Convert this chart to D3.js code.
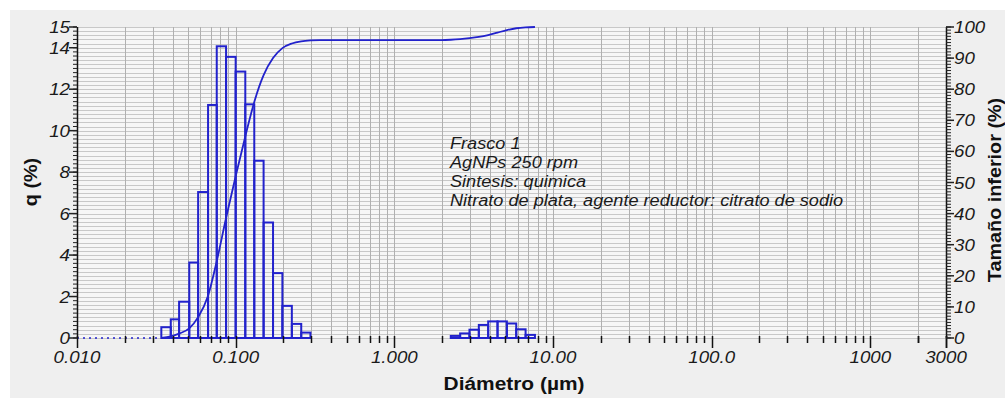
<!DOCTYPE html>
<html>
<head>
<meta charset="utf-8">
<script src="https://cdn.jsdelivr.net/npm/d3@7/dist/d3.min.js"></script>
<style>
  html, body { margin: 0; padding: 0; background: #fff; }
  svg { display: block; font-family: "Liberation Sans", Arial, sans-serif; }
</style>
</head>
<body>
<div id="container"></div>
<script>
// bin edges (µm) of the analyser channels that carry the data
var edges = [0.034, 0.039, 0.044, 0.051, 0.058, 0.067, 0.076, 0.087, 0.100, 0.115,
             0.131, 0.150, 0.172, 0.197, 0.226, 0.259, 0.296, 0.339, 0.389, 0.445,
             0.510, 0.584, 0.669, 0.766, 0.877, 1.005, 1.151, 1.318, 1.510, 1.729,
             1.981, 2.269, 2.599, 2.976, 3.409, 3.905, 4.472, 5.122, 5.867, 6.720, 7.697];
// q (%) per bin (40 bins)
var q = [0.52, 0.9, 1.75, 3.64, 7.04, 11.24, 14.07, 13.56, 12.85, 11.27,
         8.55, 5.57, 3.13, 1.55, 0.68, 0.26,
         0, 0, 0, 0, 0, 0, 0, 0, 0, 0, 0, 0, 0, 0, 0,
         0.1, 0.22, 0.4, 0.63, 0.8, 0.8, 0.7, 0.42, 0.15];
// cumulative undersize (%) at each edge
var cumul = [0, 0.5, 1.4, 3.1, 6.7, 13.6, 24.7, 38.6, 52.0, 64.8,
             75.9, 84.5, 90.0, 93.2, 94.7, 95.4, 95.7, 95.8, 95.8, 95.8,
             95.8, 95.8, 95.8, 95.8, 95.8, 95.8, 95.8, 95.8, 95.8, 95.8,
             95.8, 95.9, 96.1, 96.4, 96.8, 97.4, 98.2, 99.0, 99.6, 99.9, 100];

var xTicks = [0.01, 0.1, 1, 10, 100, 1000, 3000];
var xTickLabels = ["0.010", "0.100", "1.000", "10.00", "100.0", "1000", "3000"];
var qTicks = [0, 2, 4, 6, 8, 10, 12, 14, 15];
var cumTicks = [0, 10, 20, 30, 40, 50, 60, 70, 80, 90, 100];
var notes = ["Frasco 1", "AgNPs 250 rpm", "Sintesis: quimica",
             "Nitrato de plata, agente reductor: citrato de sodio"];

var W = 1005, H = 398;
var pL = 77, pR = 946, pT = 27, pB = 338;
var blue = "#2222cc";
var sx = 1.1; // text in the reference is a bit stretched sideways

var svg = d3.select('#container').append('svg')
  .attr('width', W).attr('height', H);

svg.append('rect').attr('x', 10).attr('y', 10).attr('width', W - 10).attr('height', H - 10)
  .attr('fill', '#efefef');
svg.append('rect').attr('x', pL).attr('y', pT).attr('width', pR - pL).attr('height', pB - pT)
  .attr('fill', '#f6f6f6');

var x = d3.scaleLog().domain([0.01, 3000]).range([pL, pR]);
var yq = d3.scaleLinear().domain([0, 15]).range([pB, pT]);
var yc = d3.scaleLinear().domain([0, 100]).range([pB, pT]);

// minor log positions
var logMinor = [];
for (var e = -2; e <= 3; e++) {
  for (var m = 1; m <= 9; m++) {
    var v = m * Math.pow(10, e);
    if (v >= 0.01 && v <= 3000) logMinor.push(v);
  }
}

// horizontal grid every 0.2
var hGrid = d3.range(0, 15.001, 0.2);
svg.append('g').selectAll('line').data(hGrid).enter().append('line')
  .attr('x1', pL).attr('x2', pR)
  .attr('y1', function(d) { return Math.round(yq(d)) + 0.5; })
  .attr('y2', function(d) { return Math.round(yq(d)) + 0.5; })
  .attr('stroke', '#c8c8c8').attr('stroke-width', 1);

svg.append('g').selectAll('line').data(logMinor).enter().append('line')
  .attr('x1', function(d) { return Math.round(x(d)) + 0.5; })
  .attr('x2', function(d) { return Math.round(x(d)) + 0.5; })
  .attr('y1', pT).attr('y2', pB)
  .attr('stroke', '#b0b0b0').attr('stroke-width', 1);

// histogram
var bins = q.map(function(v, i) { return { lo: edges[i], hi: edges[i + 1], q: v }; })
  .filter(function(d) { return d.q > 0; });
svg.append('g').selectAll('rect').data(bins).enter().append('rect')
  .attr('x', function(d) { return x(d.lo); })
  .attr('width', function(d) { return x(d.hi) - x(d.lo); })
  .attr('y', function(d) { return yq(d.q); })
  .attr('height', function(d) { return pB - yq(d.q); })
  .attr('fill', 'none').attr('stroke', blue).attr('stroke-width', 2);

// zero line, dotted
svg.append('line')
  .attr('x1', x(0.01)).attr('x2', x(edges[0]))
  .attr('y1', yq(0)).attr('y2', yq(0))
  .attr('stroke', blue).attr('stroke-width', 1.5).attr('stroke-dasharray', '2,4');

// cumulative curve
var line = d3.line()
  .x(function(d, i) { return x(edges[i]); })
  .y(function(d) { return yc(d); })
  .curve(d3.curveMonotoneX);
svg.append('path').datum(cumul).attr('d', line)
  .attr('fill', 'none').attr('stroke', blue).attr('stroke-width', 1.8);

// x ticks
svg.append('g').selectAll('line').data(logMinor.concat([2000, 3000])).enter().append('line')
  .attr('x1', function(d) { return Math.round(x(d)) + 0.5; })
  .attr('x2', function(d) { return Math.round(x(d)) + 0.5; })
  .attr('y1', pB - 2)
  .attr('y2', function(d) { return xTicks.indexOf(d) >= 0 ? pB + 10 : pB + 5; })
  .attr('stroke', '#111').attr('stroke-width', 1.5);

svg.append('g').selectAll('text').data(xTicks).enter().append('text')
  .attr('transform', function(d) { return 'translate(' + x(d) + ',363) scale(' + sx + ',1)'; })
  .attr('text-anchor', 'middle')
  .attr('font-size', 17).attr('font-style', 'italic').attr('fill', '#1a1a1a')
  .text(function(d, i) { return xTickLabels[i]; });

// left axis
svg.append('line').attr('x1', pL + 0.5).attr('x2', pL + 0.5).attr('y1', pT).attr('y2', pB)
  .attr('stroke', '#111').attr('stroke-width', 1.5);
svg.append('g').selectAll('line').data(d3.range(0, 15.001, 0.2)).enter().append('line')
  .attr('x1', pL - 4).attr('x2', pL)
  .attr('y1', function(d) { return yq(d); }).attr('y2', function(d) { return yq(d); })
  .attr('stroke', '#222').attr('stroke-width', 1);
svg.append('g').selectAll('line').data(qTicks).enter().append('line')
  .attr('x1', pL - 8).attr('x2', pL)
  .attr('y1', function(d) { return yq(d); }).attr('y2', function(d) { return yq(d); })
  .attr('stroke', '#222').attr('stroke-width', 1.5);
svg.append('g').selectAll('text').data(qTicks).enter().append('text')
  .attr('transform', function(d) { return 'translate(' + (pL - 7) + ',' + (yq(d) + 6) + ') scale(' + sx + ',1)'; })
  .attr('text-anchor', 'end')
  .attr('font-size', 17).attr('font-style', 'italic').attr('fill', '#1a1a1a')
  .text(function(d) { return d; });

// right axis
svg.append('line').attr('x1', pR + 0.5).attr('x2', pR + 0.5).attr('y1', pT).attr('y2', pB)
  .attr('stroke', '#111').attr('stroke-width', 1.5);
svg.append('g').selectAll('line').data(d3.range(0, 101, 1)).enter().append('line')
  .attr('x1', pR).attr('x2', pR + 5)
  .attr('y1', function(d) { return yc(d); }).attr('y2', function(d) { return yc(d); })
  .attr('stroke', '#222').attr('stroke-width', 1);
svg.append('g').selectAll('line').data(cumTicks).enter().append('line')
  .attr('x1', pR).attr('x2', pR + 8)
  .attr('y1', function(d) { return yc(d); }).attr('y2', function(d) { return yc(d); })
  .attr('stroke', '#222').attr('stroke-width', 1.5);
svg.append('g').selectAll('text').data(cumTicks).enter().append('text')
  .attr('transform', function(d) { return 'translate(' + (pR + 8) + ',' + (yc(d) + 6) + ') scale(' + sx + ',1)'; })
  .attr('font-size', 17).attr('font-style', 'italic').attr('fill', '#1a1a1a')
  .text(function(d) { return d; });

// axis titles
svg.append('text').attr('transform', 'translate(37,182) rotate(-90) scale(' + sx + ',1)')
  .attr('text-anchor', 'middle').attr('font-size', 18).attr('font-weight', 'bold').attr('fill', '#111')
  .text('q (%)');
svg.append('text').attr('transform', 'translate(1001,190) rotate(-90) scale(' + sx + ',1)')
  .attr('text-anchor', 'middle').attr('font-size', 18).attr('font-weight', 'bold').attr('fill', '#111')
  .text('Tamaño inferior (%)');
svg.append('text').attr('transform', 'translate(514,390) scale(' + sx + ',1)')
  .attr('text-anchor', 'middle').attr('font-size', 19).attr('font-weight', 'bold').attr('fill', '#111')
  .text('Diámetro (µm)');

// annotation
svg.append('g').attr('transform', 'translate(450,0) scale(' + sx + ',1)')
  .selectAll('text').data(notes).enter().append('text')
  .attr('x', 0).attr('y', function(d, i) { return 149 + i * 19; })
  .attr('font-size', 16.5).attr('font-style', 'italic').attr('fill', '#1a1a1a')
  .text(function(d) { return d; });
</script>
</body>
</html>
